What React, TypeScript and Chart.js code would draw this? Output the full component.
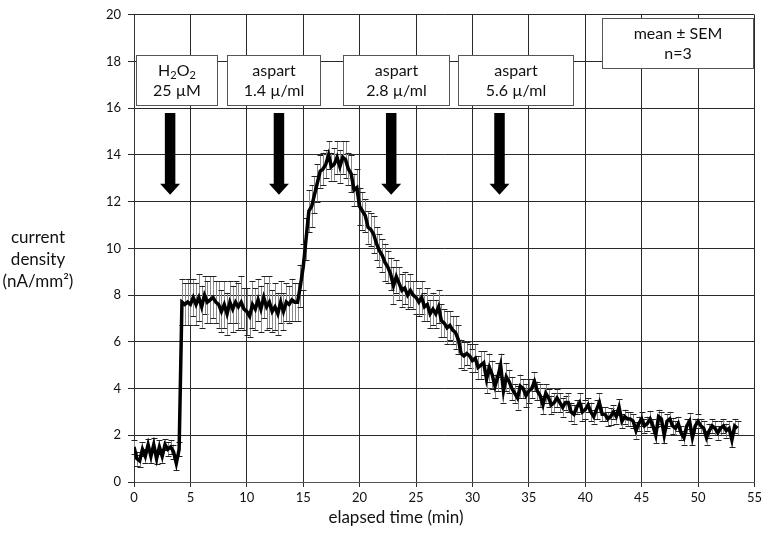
import { useEffect, useRef } from "react";
import { Chart, registerables } from "chart.js";

Chart.register(...registerables);

// ---- data -----------------------------------------------------------------
const SAMPLE_INTERVAL_MIN = 0.25;
const X_MIN = 0;
const X_MAX = 55;
const X_STEP = 5;
const Y_MIN = 0;
const Y_MAX = 20;
const Y_STEP = 2;

// mean current density (nA/mm²), 4 samples per minute
const MEAN_CURRENT = [
  1.5, 1.0, 0.9, 1.4,
  1.1, 1.6, 1.1, 1.6,
  1.0, 1.5, 1.1, 1.6,
  1.4, 1.5, 1.3, 0.8,
  1.4, 7.7, 7.6, 7.7,
  7.6, 7.9, 7.6, 7.9,
  7.5, 8.0, 7.7, 7.8,
  7.9, 7.7, 7.6, 7.3,
  7.6, 7.2, 7.7, 7.4,
  7.7, 7.5, 7.7, 7.4,
  7.3, 7.1, 7.6, 7.4,
  7.8, 7.4, 7.9, 7.5,
  7.7, 7.3, 7.5, 7.2,
  7.7, 7.3, 7.7, 7.6,
  7.8, 7.7, 7.7, 8.4,
  9.2, 10.4, 11.6, 11.8,
  12.3, 12.8, 13.3, 13.4,
  13.6, 14.0, 13.5, 13.6,
  13.9, 13.5, 13.9, 13.8,
  13.4, 13.2, 12.5, 12.6,
  11.8, 11.6, 11.4, 10.9,
  10.8, 10.6, 10.2, 9.9,
  9.7, 9.4, 9.2, 8.9,
  8.4, 8.8, 8.5, 8.2,
  8.3, 8.0, 8.2, 8.0,
  7.9, 7.7, 7.9, 7.5,
  7.6, 7.2, 7.4, 7.2,
  7.5, 6.9, 6.8, 6.6,
  6.7, 6.5, 6.4, 6.1,
  5.5, 5.4, 5.5, 5.4,
  5.2, 5.3, 4.9, 5.0,
  5.1, 4.4, 4.9, 4.6,
  4.1, 4.5, 5.0, 3.9,
  4.5, 4.3, 4.0, 3.8,
  3.6, 4.1, 4.0, 3.7,
  3.9, 4.0, 4.3, 3.9,
  3.7, 3.3, 3.8, 3.6,
  3.3, 3.4, 3.6, 3.4,
  3.2, 3.4, 3.4, 3.0,
  2.9, 3.2, 3.4, 3.0,
  3.1, 3.3, 3.0, 2.8,
  3.1, 3.4, 2.9, 2.9,
  2.7, 2.8, 3.0, 2.8,
  3.2, 2.6, 2.8, 2.7,
  2.7, 2.6, 2.2, 2.5,
  2.7, 2.4, 2.5, 2.7,
  2.4, 2.0, 2.8, 2.7,
  2.0, 2.6, 2.7, 2.4,
  2.3, 2.5, 2.1, 1.9,
  2.4, 2.6, 1.9, 2.4,
  2.6, 2.4, 2.3, 1.9,
  2.2, 2.4, 2.3, 2.1,
  2.3, 2.4, 2.2, 2.3,
  1.8, 2.4, 2.3,
];

// standard error of the mean, same sampling
const SEM_CURRENT = [
  0.3, 0.3, 0.25, 0.3,
  0.3, 0.25, 0.3, 0.3,
  0.25, 0.3, 0.3, 0.25,
  0.3, 0.3, 0.3, 0.3,
  0.3, 1.0, 0.9, 1.0,
  0.9, 0.8, 0.9, 1.0,
  0.9, 0.8, 0.9, 1.0,
  0.9, 0.9, 1.0, 0.9,
  1.0, 0.9, 0.9, 1.0,
  0.9, 1.0, 1.1, 0.9,
  1.0, 0.9, 1.0, 0.9,
  0.9, 1.0, 0.9, 1.0,
  1.1, 0.9, 1.0, 0.9,
  0.9, 0.8, 0.8, 0.8,
  0.9, 0.8, 0.8, 0.9,
  1.0, 0.9, 0.9, 0.9,
  0.8, 0.8, 0.7, 0.7,
  0.6, 0.6, 0.6, 0.7,
  0.7, 0.7, 0.7, 0.8,
  0.7, 0.8, 0.7, 0.8,
  0.8, 0.8, 0.7, 0.7,
  0.7, 0.8, 0.7, 0.7,
  0.7, 0.8, 0.7, 0.7,
  0.8, 0.7, 0.7, 0.7,
  0.7, 0.6, 0.7, 0.6,
  0.7, 0.6, 0.7, 0.6,
  0.7, 0.6, 0.7, 0.6,
  0.7, 0.7, 0.6, 0.7,
  0.6, 0.6, 0.7, 0.6,
  0.6, 0.6, 0.5, 0.5,
  0.5, 0.6, 0.5, 0.6,
  0.5, 0.6, 0.6, 0.6,
  0.5, 0.6, 0.5, 0.5,
  0.6, 0.5, 0.5, 0.4,
  0.5, 0.5, 0.4, 0.5,
  0.5, 0.4, 0.4, 0.4,
  0.5, 0.4, 0.4, 0.4,
  0.4, 0.4, 0.4, 0.4,
  0.4, 0.3, 0.4, 0.4,
  0.4, 0.3, 0.4, 0.4,
  0.4, 0.3, 0.4, 0.3,
  0.4, 0.4, 0.3, 0.3,
  0.3, 0.35, 0.3, 0.3,
  0.35, 0.3, 0.3, 0.3,
  0.3, 0.3, 0.35, 0.3,
  0.3, 0.3, 0.3, 0.35,
  0.3, 0.35, 0.3, 0.3,
  0.35, 0.3, 0.3, 0.35,
  0.3, 0.3, 0.3, 0.3,
  0.3, 0.35, 0.3, 0.3,
  0.3, 0.3, 0.3, 0.3,
  0.3, 0.3, 0.3, 0.3,
  0.3, 0.3, 0.3, 0.3,
  0.3, 0.3, 0.3,
];

// treatment labels (two text lines each; "sub" parts are subscripts)
type Seg = { text: string; sub?: boolean };
const BOX_LABELS: Seg[][][] = [
  [[{ text: "H" }, { text: "2", sub: true }, { text: "O" }, { text: "2", sub: true }], [{ text: "25 µM" }]],
  [[{ text: "aspart" }], [{ text: "1.4 µ/ml" }]],
  [[{ text: "aspart" }], [{ text: "2.8 µ/ml" }]],
  [[{ text: "aspart" }], [{ text: "5.6 µ/ml" }]],
  [[{ text: "mean ± SEM" }], [{ text: "n=3" }]],
];
// box extents in data units
const BOX_X_FROM = [0.15, 8.2, 18.5, 28.75, 41.5];
const BOX_X_TO = [7.45, 16.55, 28.05, 39.0, 55];
const BOX_Y_TOP = [18.3, 18.3, 18.3, 18.3, 19.85];
const BOX_Y_BOTTOM = [16.15, 16.15, 16.15, 16.15, 17.72];

// treatment arrows (time in min, top and tip in nA/mm²)
const ARROW_TIMES = [3.2, 12.85, 22.8, 32.4];
const ARROW_TOP = 15.8;
const ARROW_TIP = 12.3;

const X_TITLE = "elapsed time (min)";
const Y_TITLE = ["current", "density", "(nA/mm²)"];

// ---- drawing ---------------------------------------------------------------
const FONT = "Lato, 'Open Sans', 'DejaVu Sans', sans-serif";

function drawSegLine(ctx: CanvasRenderingContext2D, segs: Seg[], cx: number, cy: number, size: number) {
  const full = `${size}px ${FONT}`;
  const small = `${Math.round(size * 0.68)}px ${FONT}`;
  let total = 0;
  const widths = segs.map((s) => {
    ctx.font = s.sub ? small : full;
    const w = ctx.measureText(s.text).width;
    total += w;
    return w;
  });
  let x = cx - total / 2;
  ctx.textAlign = "left";
  ctx.textBaseline = "middle";
  segs.forEach((s, i) => {
    ctx.font = s.sub ? small : full;
    ctx.fillText(s.text, x, s.sub ? cy + size * 0.28 : cy);
    x += widths[i];
  });
}

const overlayPlugin = {
  id: "overlay",
  beforeDatasetsDraw(chart: any) {
    const { ctx, scales } = chart;
    const xs = scales.x;
    const ys = scales.y;
    ctx.save();
    MEAN_CURRENT.forEach((m, i) => {
      const s = SEM_CURRENT[i] ?? 0.3;
      const px = Math.round(xs.getPixelForValue(i * SAMPLE_INTERVAL_MIN)) + 0.5;
      const top = ys.getPixelForValue(m + s);
      const bot = ys.getPixelForValue(m - s);
      ctx.strokeStyle = "#8a8a8a";
      ctx.lineWidth = 1;
      ctx.beginPath();
      ctx.moveTo(px, top);
      ctx.lineTo(px, bot);
      ctx.stroke();
      ctx.strokeStyle = "#222";
      ctx.beginPath();
      ctx.moveTo(px - 3, Math.round(top) + 0.5);
      ctx.lineTo(px + 3, Math.round(top) + 0.5);
      ctx.moveTo(px - 3, Math.round(bot) + 0.5);
      ctx.lineTo(px + 3, Math.round(bot) + 0.5);
      ctx.stroke();
    });
    ctx.restore();
  },
  afterDatasetsDraw(chart: any) {
    const { ctx, scales } = chart;
    const xs = scales.x;
    const ys = scales.y;
    ctx.save();
    BOX_LABELS.forEach((lines, i) => {
      const x0 = Math.round(xs.getPixelForValue(BOX_X_FROM[i])) + 0.5;
      const x1 = Math.round(xs.getPixelForValue(BOX_X_TO[i])) - 0.5;
      const y0 = Math.round(ys.getPixelForValue(BOX_Y_TOP[i])) + 0.5;
      const y1 = Math.round(ys.getPixelForValue(BOX_Y_BOTTOM[i])) + 0.5;
      ctx.fillStyle = "#fff";
      ctx.fillRect(x0, y0, x1 - x0, y1 - y0);
      ctx.strokeStyle = "#555";
      ctx.lineWidth = 1;
      ctx.strokeRect(x0, y0, x1 - x0, y1 - y0);
      ctx.fillStyle = "#111";
      const cx = (x0 + x1) / 2;
      const cy = (y0 + y1) / 2;
      drawSegLine(ctx, lines[0], cx, cy - 10, 16);
      drawSegLine(ctx, lines[1], cx, cy + 10, 16);
    });
    ctx.fillStyle = "#000";
    ARROW_TIMES.forEach((t) => {
      const cx = xs.getPixelForValue(t);
      const top = ys.getPixelForValue(ARROW_TOP);
      const tip = ys.getPixelForValue(ARROW_TIP);
      const headH = 11;
      const shaftW = 10.5;
      const headW = 20;
      ctx.beginPath();
      ctx.moveTo(cx - shaftW / 2, top);
      ctx.lineTo(cx + shaftW / 2, top);
      ctx.lineTo(cx + shaftW / 2, tip - headH);
      ctx.lineTo(cx + headW / 2, tip - headH);
      ctx.lineTo(cx, tip);
      ctx.lineTo(cx - headW / 2, tip - headH);
      ctx.lineTo(cx - shaftW / 2, tip - headH);
      ctx.closePath();
      ctx.fill();
    });
    ctx.restore();
  },
  afterDraw(chart: any) {
    const { ctx } = chart;
    ctx.save();
    ctx.fillStyle = "#111";
    ctx.textAlign = "center";
    ctx.textBaseline = "middle";
    ctx.font = `17px ${FONT}`;
    Y_TITLE.forEach((l, i) => ctx.fillText(l, 38, 238 + i * 22));
    ctx.fillText(X_TITLE, 396, 518);
    ctx.restore();
  },
};

export default function App() {
  const ref = useRef<HTMLCanvasElement | null>(null);
  useEffect(() => {
    document.body.style.margin = "0";
    if (!ref.current) return;
    const points = MEAN_CURRENT.map((v, i) => ({ x: i * SAMPLE_INTERVAL_MIN, y: v }));
    const tickFont = { family: FONT, size: 13 };
    const chart = new Chart(ref.current, {
      type: "line",
      data: {
        datasets: [
          {
            data: points,
            borderColor: "#000",
            borderWidth: 3.5,
            pointRadius: 0,
            tension: 0,
            fill: false,
          },
        ],
      },
      options: {
        animation: false,
        responsive: false,
        layout: { padding: { left: 0, right: 9, top: 6, bottom: 0 } },
        plugins: { legend: { display: false }, tooltip: { enabled: false } },
        scales: {
          x: {
            type: "linear",
            min: X_MIN,
            max: X_MAX,
            ticks: { stepSize: X_STEP, font: tickFont, color: "#111", padding: 3, maxRotation: 0 },
            grid: { color: "#2a2a2a", lineWidth: 1, tickLength: 5 },
            border: { color: "#555", width: 1 },
            afterFit: (s: any) => {
              s.height = 68;
            },
          },
          y: {
            min: Y_MIN,
            max: Y_MAX,
            ticks: { stepSize: Y_STEP, font: tickFont, color: "#111", padding: 7 },
            grid: { color: "#2a2a2a", lineWidth: 1, tickLength: 6 },
            border: { color: "#333", width: 1 },
            afterFit: (s: any) => {
              s.width = 134;
            },
          },
        },
      },
      plugins: [overlayPlugin],
    });
    return () => chart.destroy();
  }, []);
  return <canvas ref={ref} width={765} height={550} />;
}
